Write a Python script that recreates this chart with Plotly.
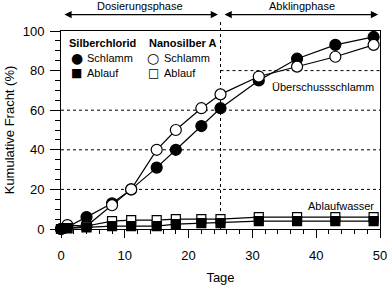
import plotly.graph_objects as go

# ---- data ----
days = [0, 1, 4, 8, 11, 15, 18, 22, 25, 31, 37, 43, 49]
agcl_schlamm = [0, 1, 6, 13, 20, 31, 40, 52, 61, 75, 86, 93, 97]
nano_schlamm = [0, 2, 1.5, 12, 20, 40, 50, 61, 68, 77, 82, 87, 93]
agcl_ablauf = [0, 0.3, 0.8, 1.5, 1.5, 1.5, 2.5, 3, 3, 4, 4, 4, 4]
nano_ablauf = [0, 0.5, 1.5, 4, 4.5, 4.5, 5, 5, 5, 6, 6, 6, 6]

x_ticks = [0, 10, 20, 30, 40, 50]
y_ticks = [0, 20, 40, 60, 80, 100]
grid_y = [20, 40, 60]
phase_split = 25

FONT = "Liberation Sans, Arial, sans-serif"

fig = go.Figure()


def add(y, symbol, fill, size, name):
    fig.add_trace(go.Scatter(
        x=days, y=y, mode="lines+markers", name=name,
        line=dict(color="black", width=1.2),
        marker=dict(symbol=symbol, size=size, color=fill,
                    line=dict(color="black", width=1.2)),
        cliponaxis=False, showlegend=False))


add(agcl_schlamm, "circle", "black", 11, "Silberchlorid Schlamm")
add(nano_schlamm, "circle", "white", 11, "Nanosilber A Schlamm")
add(nano_ablauf, "square", "white", 9, "Nanosilber A Ablauf")
add(agcl_ablauf, "square", "black", 9, "Silberchlorid Ablauf")

# dotted reference lines
for gy in grid_y:
    fig.add_shape(type="line", xref="paper", yref="y", x0=0, x1=1, y0=gy, y1=gy,
                  line=dict(color="black", width=1, dash="dot"), layer="below")
fig.add_shape(type="line", xref="x", yref="y", x0=phase_split, x1=50, y0=80, y1=80,
              line=dict(color="black", width=1, dash="dot"), layer="below")
fig.add_shape(type="line", xref="x", yref="paper", x0=phase_split, x1=phase_split,
              y0=0, y1=1.056, line=dict(color="black", width=1, dash="dot"),
              layer="below")

ann = []
# phase arrows
for a0, a1 in [(0.3, 24.6), (25.4, 49.7)]:
    ann.append(dict(x=a1, y=1.083, xref="x", yref="paper", ax=a0, axref="x", ay=0,
                    ayref="pixel", text="", showarrow=True, arrowside="end+start",
                    arrowhead=2, startarrowhead=2, arrowsize=1.2, startarrowsize=1.2,
                    arrowwidth=1.2, arrowcolor="black"))
ann.append(dict(x=12.4, y=1.128, xref="x", yref="paper", text="Dosierungsphase",
                xanchor="center", yanchor="middle",
                showarrow=False, font=dict(size=11, color="black", family=FONT)))
ann.append(dict(x=37.8, y=1.128, xref="x", yref="paper", text="Abklingphase",
                xanchor="center", yanchor="middle",
                showarrow=False, font=dict(size=11, color="black", family=FONT)))

# curve labels
ann.append(dict(x=0.988, y=0.717, xref="paper", yref="paper", xanchor="right",
                yanchor="middle", text="Überschussschlamm", showarrow=False,
                font=dict(size=11, color="black", family=FONT)))
ann.append(dict(x=0.988, y=0.118, xref="paper", yref="paper", xanchor="right",
                yanchor="middle", text="Ablaufwasser", showarrow=False,
                font=dict(size=11, color="black", family=FONT)))


def px(xp):
    return (xp - 61) / 319


def py(yp):
    return (229 - yp) / 198


# legend
ann.append(dict(x=px(67), y=py(43), xref="paper", yref="paper", xanchor="left",
                yanchor="middle", text="<b>Silberchlorid</b>", showarrow=False,
                font=dict(size=11, color="black", family=FONT)))
ann.append(dict(x=px(147), y=py(43), xref="paper", yref="paper", xanchor="left",
                yanchor="middle", text="<b>Nanosilber A</b>", showarrow=False,
                font=dict(size=11, color="black", family=FONT)))
for gx, tx, glyph_s, glyph_a in [(76.5, 85, "●", "■"), (153, 162, "○", "□")]:
    ann.append(dict(x=px(gx), y=py(57.5), xref="paper", yref="paper",
                    xanchor="center", yanchor="middle",
                    text=glyph_s, showarrow=False,
                    font=dict(size=14, color="black", family="DejaVu Sans")))
    ann.append(dict(x=px(gx), y=py(72.5), xref="paper", yref="paper",
                    xanchor="center", yanchor="middle",
                    text=glyph_a, showarrow=False,
                    font=dict(size=12, color="black", family="DejaVu Sans")))
    ann.append(dict(x=px(tx), y=py(57.5), xref="paper", yref="paper", xanchor="left",
                    yanchor="middle", text="Schlamm", showarrow=False,
                    font=dict(size=11, color="black", family=FONT)))
    ann.append(dict(x=px(tx), y=py(72.5), xref="paper", yref="paper", xanchor="left",
                    yanchor="middle", text="Ablauf", showarrow=False,
                    font=dict(size=11, color="black", family=FONT)))

axis_common = dict(
    showline=True, linecolor="black", linewidth=1, mirror=True,
    ticks="outside", tickwidth=1, tickcolor="black",
    showgrid=False, zeroline=False, automargin=False,
    tickfont=dict(size=13, color="black", family=FONT),
)

fig.update_layout(
    width=388, height=286,
    margin=dict(l=61, r=8, t=31, b=57),
    paper_bgcolor="white", plot_bgcolor="white",
    font=dict(family=FONT, color="black"),
    annotations=ann,
    xaxis=dict(range=[0, 50], tickvals=x_ticks, ticklen=8, ticklabelstandoff=6,
               minor=dict(dtick=2, tick0=0, ticks="outside", ticklen=4,
                          tickcolor="black", showgrid=False),
               title=dict(text="Tage", font=dict(size=13, color="black", family=FONT),
                          standoff=11),
               **axis_common),
    yaxis=dict(range=[0, 100], tickvals=y_ticks, ticklen=10, ticklabelstandoff=3,
               minor=dict(dtick=5, tick0=0, ticks="outside", ticklen=5,
                          tickcolor="black", showgrid=False),
               title=dict(text="Kumulative Fracht (%)",
                          font=dict(size=13, color="black", family=FONT),
                          standoff=5),
               **axis_common),
)

fig.write_html("out.html", config={"displayModeBar": False},
               post_script="document.body.style.margin='0px';")
